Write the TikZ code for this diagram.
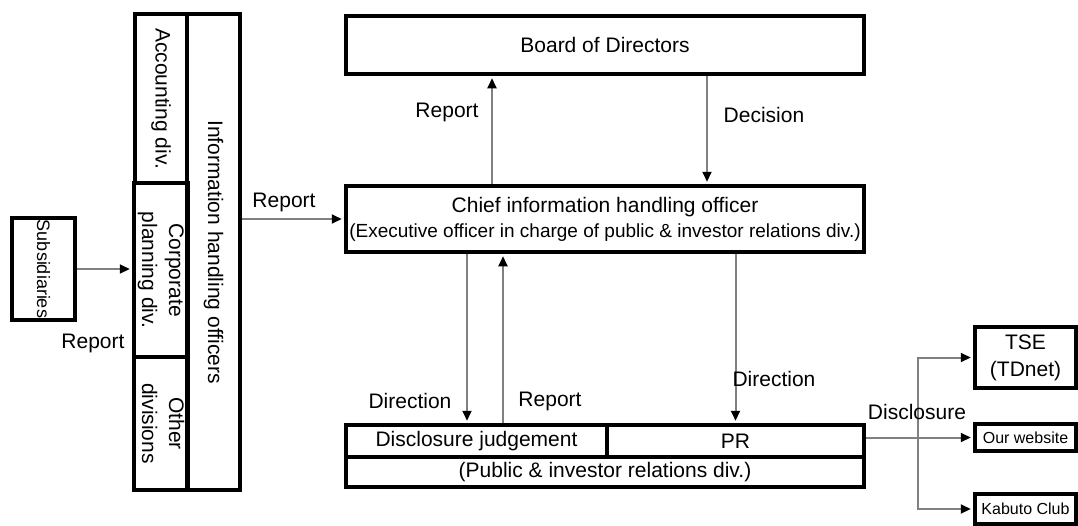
\documentclass[tikz,border=0pt]{standalone}
\usepackage{fontspec}
\setmainfont{Liberation Sans}
\usetikzlibrary{arrows.meta}

\begin{document}
\begin{tikzpicture}[x=1pt,y=-1pt,
    box/.style={draw,line width=4.5pt,inner sep=0pt,align=center,font=\fontsize{21}{27}\selectfont},
    arr/.style={draw=black!50,line width=2pt,shorten >=2pt,-{Triangle[black,length=10pt,width=9pt]}},
    lbl/.style={font=\fontsize{21}{27}\selectfont}]
  \useasboundingbox (0,0) rectangle (1078,525);

  \node[box,minimum width=518,minimum height=58] (board) at (605,45) {Board of Directors};
  \node[box,minimum width=518,minimum height=66] (chief) at (605,219)
    {Chief information handling officer\\[-2pt]{\fontsize{19}{23}\selectfont(Executive officer in charge of public \& investor relations div.)}};

  \node[box,minimum width=261,minimum height=32] (judge) at (476.5,441) {Disclosure judgement};
  \node[box,minimum width=257,minimum height=32] (pr) at (735.5,441) {PR};
  \node[box,minimum width=518,minimum height=30] (pubrel) at (605,472) {(Public \& investor relations div.)};

  \node[box,minimum width=52,minimum height=169] (acct) at (161,98.5) {\rotatebox{-90}{Accounting div.}};
  \node[box,minimum width=52,minimum height=174] (corp) at (161,270)
    {\rotatebox{-90}{\begin{tabular}{@{}c@{}}Corporate\\planning div.\end{tabular}}};
  \node[box,minimum width=52,minimum height=133] (other) at (161,423.5)
    {\rotatebox{-90}{\begin{tabular}{@{}c@{}}Other\\divisions\end{tabular}}};
  \node[box,minimum width=53,minimum height=476] (iho) at (213.5,252) {\rotatebox{-90}{Information handling officers}};

  \node[box,minimum width=63,minimum height=102,font=\fontsize{18}{22}\selectfont] (subs) at (43.5,269) {\rotatebox{-90}{Subsidiaries}};

  \node[box,minimum width=101,minimum height=61] (tse) at (1025.5,357.5) {TSE\\(TDnet)};
  \node[box,minimum width=101,minimum height=27,font=\fontsize{16}{19}\selectfont] (web) at (1025.5,437.5) {Our website};
  \node[box,minimum width=101,minimum height=30,font=\fontsize{16}{19}\selectfont] (kabuto) at (1025.5,509) {Kabuto Club};

  \coordinate (repU) at (492,0);
  \coordinate (decU) at (707,0);
  \coordinate (dirL) at (467,0);
  \coordinate (repL) at (503,0);
  \coordinate (split) at (918,0);

  \draw[arr] (subs.east) -- (subs.east -| corp.west);
  \draw[arr] (iho.east |- chief.west) -- (chief.west);
  \draw[arr] (repU |- chief.north) -- (repU |- board.south);
  \draw[arr] (decU |- board.south) -- (decU |- chief.north);
  \draw[arr] (dirL |- chief.south) -- (dirL |- judge.north);
  \draw[arr] (repL |- judge.north) -- (repL |- chief.south);
  \draw[arr] (pr.north |- chief.south) -- (pr.north);
  \draw[arr] (pr.east |- web.west) -- (web.west);
  \draw[arr] (split |- web.west) |- (tse.west);
  \draw[arr] (split |- web.west) |- (kabuto.west);

  \node[lbl] (repSub) at (93,343) {Report};
  \node[lbl] (repIho) at (284,202) {Report};
  \node[lbl] (repBoard) at (447,112) {Report};
  \node[lbl] (decBoard) at (764,115) {Decision};
  \node[lbl] (dirJudge) at (410,401) {Direction};
  \node[lbl] (repJudge) at (550,401) {Report};
  \node[lbl] (dirPR) at (774,379) {Direction};
  \node[lbl] (discl) at (917,412) {Disclosure};
\end{tikzpicture}
\end{document}
